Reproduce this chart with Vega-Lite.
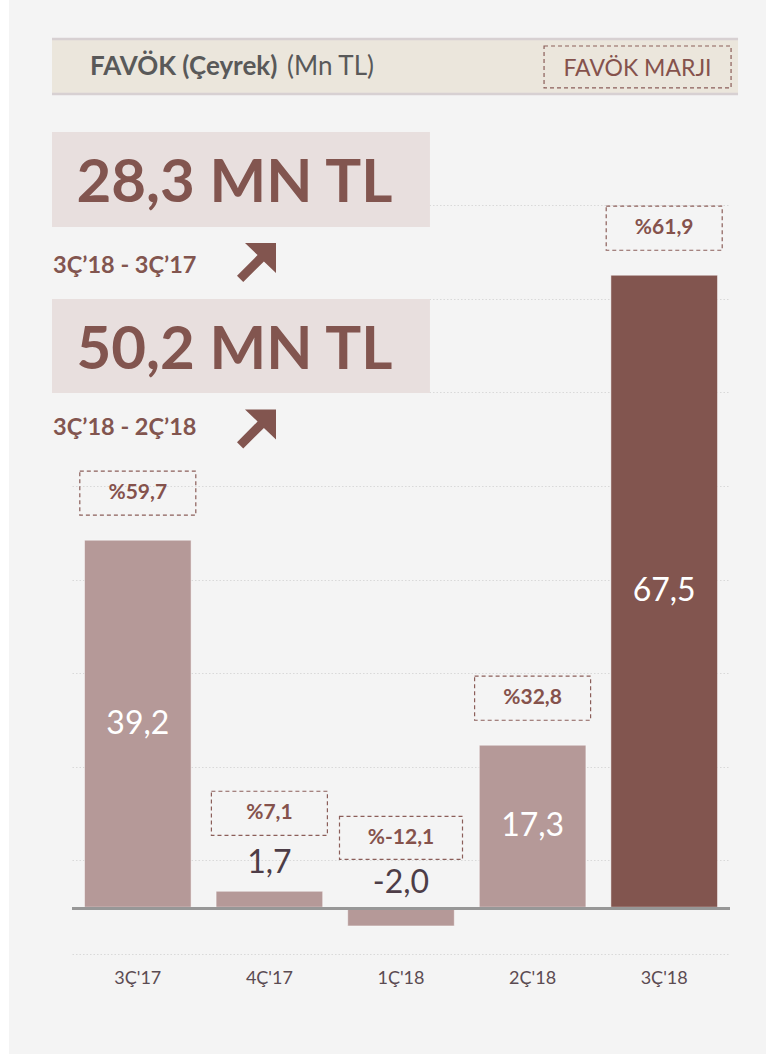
{
  "$schema": "https://vega.github.io/schema/vega-lite/v6.json",
  "width": 658,
  "height": 749,
  "autosize": {"type": "none"},
  "padding": {"left": 72, "top": 205, "right": 36, "bottom": 100},
  "background": "#f4f4f4",
  "config": {"view": {"stroke": null}, "font": "Lato", "axis": {"labelFont": "Lato"}},
  "datasets": {
    "ceyrekler": [
      {"ceyrek": "3Ç'17", "favok": 39.2, "etiket": "39,2", "marj": 59.7, "marj_etiket": "%59,7"},
      {"ceyrek": "4Ç'17", "favok": 1.7, "etiket": "1,7", "marj": 7.1, "marj_etiket": "%7,1"},
      {"ceyrek": "1Ç'18", "favok": -2.0, "etiket": "-2,0", "marj": -12.1, "marj_etiket": "%-12,1"},
      {"ceyrek": "2Ç'18", "favok": 17.3, "etiket": "17,3", "marj": 32.8, "marj_etiket": "%32,8"},
      {"ceyrek": "3Ç'18", "favok": 67.5, "etiket": "67,5", "marj": 61.9, "marj_etiket": "%61,9"}
    ],
    "ozet": [
      {"fark": "28,3 MN TL", "donem": "3Ç’18 - 3Ç’17"},
      {"fark": "50,2 MN TL", "donem": "3Ç’18 - 2Ç’18"}
    ]
  },
  "layer": [
    {
      "data": {"values": [{}]},
      "layer": [
        {
          "mark": {"type": "rect", "fill": "#ebe6dc"},
          "encoding": {
            "x": {"datum": -0.652, "type": "quantitative", "scale": {"domain": [-0.5, 4.5], "nice": false, "zero": false}, "axis": null},
            "x2": {"datum": 4.561},
            "y": {"datum": 92.84, "type": "quantitative", "scale": {"domain": [-5, 75], "nice": false, "zero": false}, "axis": null},
            "y2": {"datum": 86.75}
          }
        },
        {
          "mark": {"type": "rule", "stroke": "#d7d0d2", "strokeWidth": 2.5},
          "encoding": {
            "x": {"datum": -0.652, "type": "quantitative", "scale": {"domain": [-0.5, 4.5], "nice": false, "zero": false}, "axis": null},
            "x2": {"datum": 4.561},
            "y": {"datum": 92.73, "type": "quantitative", "scale": {"domain": [-5, 75], "nice": false, "zero": false}, "axis": null}
          }
        },
        {
          "mark": {"type": "rule", "stroke": "#d7d0d2", "strokeWidth": 2.5},
          "encoding": {
            "x": {"datum": -0.652, "type": "quantitative", "scale": {"domain": [-0.5, 4.5], "nice": false, "zero": false}, "axis": null},
            "x2": {"datum": 4.561},
            "y": {"datum": 86.86, "type": "quantitative", "scale": {"domain": [-5, 75], "nice": false, "zero": false}, "axis": null}
          }
        },
        {
          "mark": {"type": "text", "text": "FAVÖK (Çeyrek)", "font": "Lato", "fontSize": 26, "fontWeight": "bold", "fill": "#595959", "align": "left", "baseline": "alphabetic"},
          "encoding": {
            "x": {"datum": -0.363, "type": "quantitative", "scale": {"domain": [-0.5, 4.5], "nice": false, "zero": false}, "axis": null},
            "y": {"datum": 88.89, "type": "quantitative", "scale": {"domain": [-5, 75], "nice": false, "zero": false}, "axis": null}
          }
        },
        {
          "mark": {"type": "text", "text": "(Mn TL)", "font": "Lato", "fontSize": 26, "fill": "#595959", "align": "left", "baseline": "alphabetic"},
          "encoding": {
            "x": {"datum": 1.134, "type": "quantitative", "scale": {"domain": [-0.5, 4.5], "nice": false, "zero": false}, "axis": null},
            "y": {"datum": 88.89, "type": "quantitative", "scale": {"domain": [-5, 75], "nice": false, "zero": false}, "axis": null}
          }
        },
        {
          "mark": {"type": "rect", "fill": null, "filled": false, "stroke": "#8b5e59", "strokeWidth": 1.2, "strokeDash": [4, 3]},
          "encoding": {
            "x": {"datum": 3.087, "type": "quantitative", "scale": {"domain": [-0.5, 4.5], "nice": false, "zero": false}, "axis": null},
            "x2": {"datum": 4.508},
            "y": {"datum": 91.98, "type": "quantitative", "scale": {"domain": [-5, 75], "nice": false, "zero": false}, "axis": null},
            "y2": {"datum": 87.5}
          }
        },
        {
          "mark": {"type": "text", "text": "FAVÖK MARJI", "font": "Lato", "fontSize": 23, "fill": "#85524c", "align": "center", "baseline": "alphabetic"},
          "encoding": {
            "x": {"datum": 3.797, "type": "quantitative", "scale": {"domain": [-0.5, 4.5], "nice": false, "zero": false}, "axis": null},
            "y": {"datum": 88.78, "type": "quantitative", "scale": {"domain": [-5, 75], "nice": false, "zero": false}, "axis": null}
          }
        },
        {
          "mark": {"type": "rect", "fill": "#e8dfde"},
          "encoding": {
            "x": {"datum": -0.652, "type": "quantitative", "scale": {"domain": [-0.5, 4.5], "nice": false, "zero": false}, "axis": null},
            "x2": {"datum": 2.22},
            "y": {"datum": 82.8, "type": "quantitative", "scale": {"domain": [-5, 75], "nice": false, "zero": false}, "axis": null},
            "y2": {"datum": 72.65}
          }
        },
        {
          "mark": {"type": "rect", "fill": "#e8dfde"},
          "encoding": {
            "x": {"datum": -0.652, "type": "quantitative", "scale": {"domain": [-0.5, 4.5], "nice": false, "zero": false}, "axis": null},
            "x2": {"datum": 2.22},
            "y": {"datum": 64.97, "type": "quantitative", "scale": {"domain": [-5, 75], "nice": false, "zero": false}, "axis": null},
            "y2": {"datum": 54.93}
          }
        },
        {
          "data": {"name": "ozet"},
          "transform": [{"filter": "datum.fark == '28,3 MN TL'"}],
          "layer": [
            {
              "mark": {"type": "text", "font": "Lato", "fontSize": 60, "fontWeight": "bold", "fill": "#82554f", "align": "left", "baseline": "alphabetic"},
              "encoding": {
                "text": {"field": "fark"},
                "x": {"datum": -0.466, "type": "quantitative", "scale": {"domain": [-0.5, 4.5], "nice": false, "zero": false}, "axis": null},
                "y": {"datum": 75.32, "type": "quantitative", "scale": {"domain": [-5, 75], "nice": false, "zero": false}, "axis": null}
              }
            },
            {
              "mark": {"type": "text", "font": "Lato", "fontSize": 23.5, "fontWeight": "bold", "fill": "#82554f", "align": "left", "baseline": "alphabetic"},
              "encoding": {
                "text": {"field": "donem"},
                "x": {"datum": -0.644, "type": "quantitative", "scale": {"domain": [-0.5, 4.5], "nice": false, "zero": false}, "axis": null},
                "y": {"datum": 67.73, "type": "quantitative", "scale": {"domain": [-5, 75], "nice": false, "zero": false}, "axis": null}
              }
            },
            {
              "mark": {"type": "point", "shape": "M1,-1L-0.59,-1L0.055,-0.38L-1,0.68L-0.68,1L0.38,-0.055L1,0.54Z", "size": 1521, "filled": true, "fill": "#82554f", "stroke": null, "opacity": 1},
              "encoding": {
                "x": {"datum": 0.902, "type": "quantitative", "scale": {"domain": [-0.5, 4.5], "nice": false, "zero": false}, "axis": null},
                "y": {"datum": 68.86, "type": "quantitative", "scale": {"domain": [-5, 75], "nice": false, "zero": false}, "axis": null}
              }
            }
          ]
        },
        {
          "data": {"name": "ozet"},
          "transform": [{"filter": "datum.fark == '50,2 MN TL'"}],
          "layer": [
            {
              "mark": {"type": "text", "font": "Lato", "fontSize": 60, "fontWeight": "bold", "fill": "#82554f", "align": "left", "baseline": "alphabetic"},
              "encoding": {
                "text": {"field": "fark"},
                "x": {"datum": -0.466, "type": "quantitative", "scale": {"domain": [-0.5, 4.5], "nice": false, "zero": false}, "axis": null},
                "y": {"datum": 57.48, "type": "quantitative", "scale": {"domain": [-5, 75], "nice": false, "zero": false}, "axis": null}
              }
            },
            {
              "mark": {"type": "text", "font": "Lato", "fontSize": 23.5, "fontWeight": "bold", "fill": "#82554f", "align": "left", "baseline": "alphabetic"},
              "encoding": {
                "text": {"field": "donem"},
                "x": {"datum": -0.644, "type": "quantitative", "scale": {"domain": [-0.5, 4.5], "nice": false, "zero": false}, "axis": null},
                "y": {"datum": 50.43, "type": "quantitative", "scale": {"domain": [-5, 75], "nice": false, "zero": false}, "axis": null}
              }
            },
            {
              "mark": {"type": "point", "shape": "M1,-1L-0.59,-1L0.055,-0.38L-1,0.68L-0.68,1L0.38,-0.055L1,0.54Z", "size": 1521, "filled": true, "fill": "#82554f", "stroke": null, "opacity": 1},
              "encoding": {
                "x": {"datum": 0.902, "type": "quantitative", "scale": {"domain": [-0.5, 4.5], "nice": false, "zero": false}, "axis": null},
                "y": {"datum": 51.08, "type": "quantitative", "scale": {"domain": [-5, 75], "nice": false, "zero": false}, "axis": null}
              }
            }
          ]
        }
      ]
    },
    {
      "data": {"name": "ceyrekler"},
      "encoding": {
        "x": {
          "field": "ceyrek", "type": "nominal", "sort": null,
          "scale": {"domain": ["3Ç'17", "4Ç'17", "1Ç'18", "2Ç'18", "3Ç'18"], "paddingInner": 0.19, "paddingOuter": 0.095},
          "axis": {"title": null, "domain": false, "ticks": false, "labelAngle": 0, "labelFont": "Lato", "labelFontSize": 18, "labelColor": "#5b4b52", "labelPadding": 15}
        },
        "y": {
          "field": "favok", "type": "quantitative",
          "scale": {"domain": [-5, 75], "nice": false, "zero": false},
          "axis": {"title": null, "labels": false, "ticks": false, "domain": false, "values": [-5, 5, 15, 25, 35, 45, 55, 65, 75], "grid": true, "gridColor": "#d9d9d9", "gridDash": [1.5, 2], "gridWidth": 1}
        }
      },
      "layer": [
        {
          "mark": {"type": "bar", "stroke": "#ffffff", "strokeWidth": 0.8, "strokeOpacity": 0.6},
          "encoding": {
            "color": {
              "field": "ceyrek", "type": "nominal",
              "scale": {"domain": ["3Ç'17", "4Ç'17", "1Ç'18", "2Ç'18", "3Ç'18"], "range": ["#b59998", "#b59998", "#b59998", "#b59998", "#82554f"]},
              "legend": null
            }
          }
        },
        {
          "transform": [{"filter": "datum.favok > 10"}],
          "layer": [
            {
              "mark": {"type": "point", "shape": "M-1,-0.38L1,-0.38L1,0.38L-1,0.38Z", "size": 13456, "filled": false, "stroke": "#8b5e59", "strokeWidth": 1.2, "strokeDash": [4, 3], "opacity": 1, "yOffset": -47}
            },
            {
              "mark": {"type": "text", "font": "Lato", "fontSize": 21, "fontWeight": "bold", "fill": "#85524c", "baseline": "middle", "align": "center", "yOffset": -47},
              "encoding": {"text": {"field": "marj_etiket"}}
            }
          ]
        },
        {
          "transform": [{"filter": "datum.favok > 0 && datum.favok <= 10"}],
          "layer": [
            {
              "mark": {"type": "point", "shape": "M-1,-0.38L1,-0.38L1,0.38L-1,0.38Z", "size": 13456, "filled": false, "stroke": "#8b5e59", "strokeWidth": 1.2, "strokeDash": [4, 3], "opacity": 1, "yOffset": -78}
            },
            {
              "mark": {"type": "text", "font": "Lato", "fontSize": 21, "fontWeight": "bold", "fill": "#85524c", "baseline": "middle", "align": "center", "yOffset": -78},
              "encoding": {"text": {"field": "marj_etiket"}}
            },
            {
              "mark": {"type": "text", "font": "Lato", "fontSize": 32, "fontWeight": "normal", "fill": "#4d3d47", "baseline": "alphabetic", "align": "center", "yOffset": -18},
              "encoding": {"text": {"field": "etiket"}}
            }
          ]
        },
        {
          "transform": [{"filter": "datum.favok < 0"}],
          "layer": [
            {
              "mark": {"type": "point", "shape": "M-1,-0.35L1,-0.35L1,0.35L-1,0.35Z", "size": 15129, "filled": false, "stroke": "#8b5e59", "strokeWidth": 1.2, "strokeDash": [4, 3], "opacity": 1, "yOffset": -88}
            },
            {
              "mark": {"type": "text", "font": "Lato", "fontSize": 21, "fontWeight": "bold", "fill": "#85524c", "baseline": "middle", "align": "center", "yOffset": -88},
              "encoding": {"text": {"field": "marj_etiket"}}
            },
            {
              "mark": {"type": "text", "font": "Lato", "fontSize": 32, "fontWeight": "normal", "fill": "#4d3d47", "baseline": "alphabetic", "align": "center", "yOffset": -33},
              "encoding": {"text": {"field": "etiket"}}
            }
          ]
        }
      ]
    },
    {
      "data": {"name": "ceyrekler"},
      "transform": [{"filter": "datum.favok > 10"}],
      "mark": {"type": "text", "font": "Lato", "fontSize": 32, "fontWeight": "normal", "fill": "#ffffff", "baseline": "middle", "align": "center"},
      "encoding": {
        "x": {"field": "ceyrek", "type": "nominal", "sort": null, "scale": {"domain": ["3Ç'17", "4Ç'17", "1Ç'18", "2Ç'18", "3Ç'18"], "paddingInner": 0.19, "paddingOuter": 0.095}, "axis": null},
        "y": {"field": "favok", "type": "quantitative", "scale": {"domain": [-10, 150], "nice": false, "zero": false}, "axis": null},
        "text": {"field": "etiket"}
      }
    },
    {
      "data": {"values": [{}]},
      "layer": [
        {
          "mark": {"type": "rule", "stroke": "#979797", "strokeWidth": 3},
          "encoding": {
            "x": {"datum": -0.5, "type": "quantitative", "scale": {"domain": [-0.5, 4.5], "nice": false, "zero": false}, "axis": null},
            "x2": {"datum": 4.5},
            "y": {"datum": -0.15, "type": "quantitative", "scale": {"domain": [-5, 75], "nice": false, "zero": false}, "axis": null}
          }
        },
        {
          "mark": {"type": "rect", "fill": "#ffffff"},
          "encoding": {
            "x": {"datum": -1.1, "type": "quantitative", "scale": {"domain": [-0.5, 4.5], "nice": false, "zero": false}, "axis": null},
            "x2": {"datum": -0.979},
            "y": {"datum": 100, "type": "quantitative", "scale": {"domain": [-5, 75], "nice": false, "zero": false}, "axis": null},
            "y2": {"datum": -20}
          }
        }
      ]
    }
  ],
  "resolve": {"scale": {"x": "independent", "y": "independent"}}
}
